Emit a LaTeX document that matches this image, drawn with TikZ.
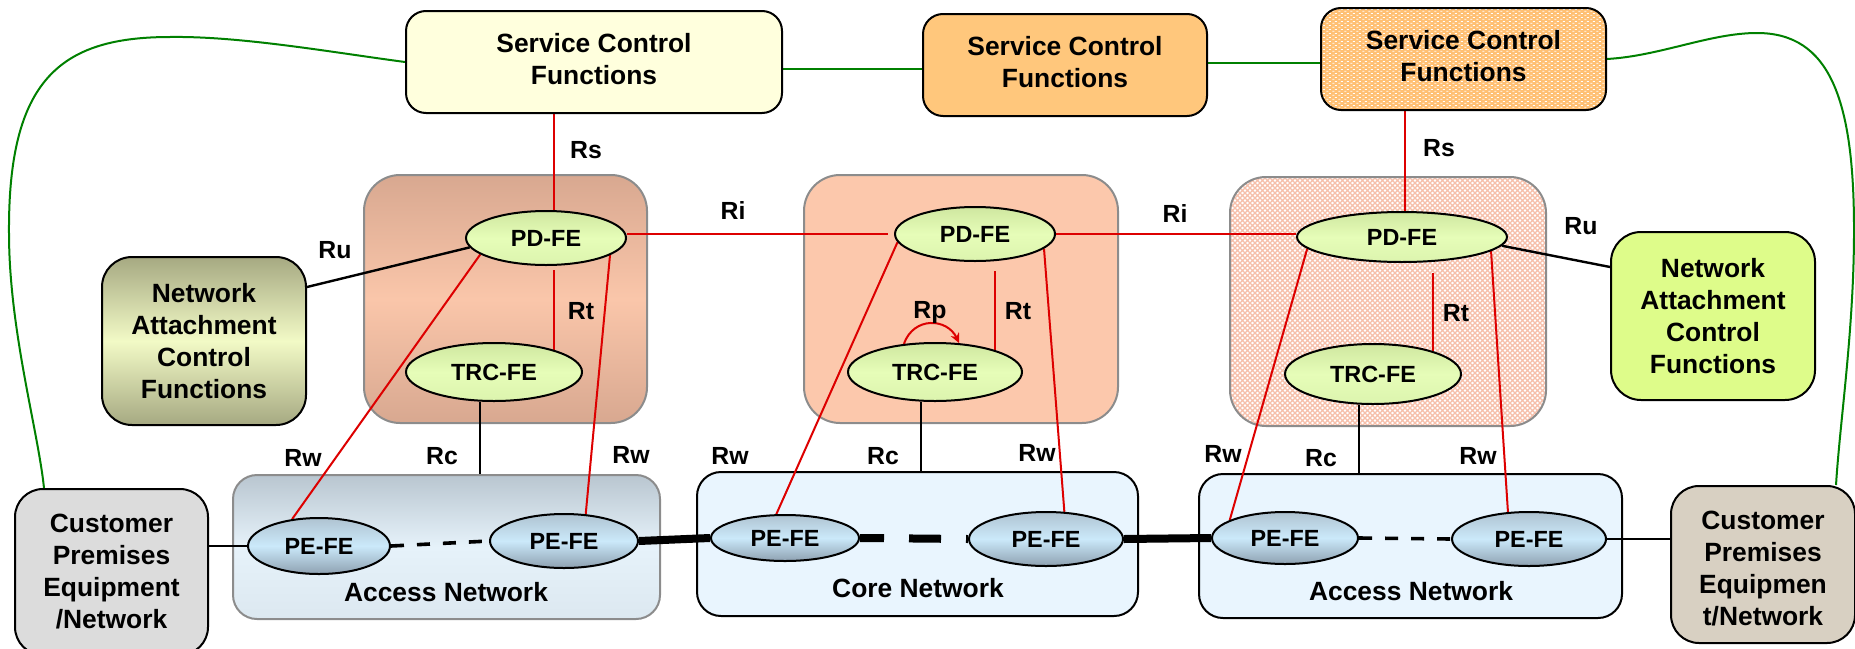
\documentclass[tikz,border=0pt]{standalone}
\usepackage{fontspec}
\setmainfont{Liberation Sans}
\usetikzlibrary{shapes.geometric,arrows.meta,patterns,calc}

% colours
\definecolor{scfpale}{HTML}{FFFFDD}
\definecolor{scforange}{HTML}{FFC77C}
\definecolor{scfdot}{HTML}{FFC074}
\definecolor{domonedark}{HTML}{D8A890}
\definecolor{domonelight}{HTML}{FAC6AA}
\definecolor{domtwo}{HTML}{FCC8AC}
\definecolor{domthreegrid}{HTML}{F6BFAA}
\definecolor{nacdark}{HTML}{A6A982}
\definecolor{naclight}{HTML}{F2FAC6}
\definecolor{nacgreen}{HTML}{DEFC8A}
\definecolor{cpegray}{HTML}{DCDCDC}
\definecolor{cpebeige}{HTML}{D8D0C2}
\definecolor{antop}{HTML}{B9C6D0}
\definecolor{anmid}{HTML}{E6F2FA}
\definecolor{anbot}{HTML}{DCE8F0}
\definecolor{netblue}{HTML}{E9F5FE}
\definecolor{fetop}{HTML}{CFE7A0}
\definecolor{femid}{HTML}{E6FDB8}
\definecolor{febot}{HTML}{DCF4AE}
\definecolor{petop}{HTML}{AFC3D1}
\definecolor{pemid}{HTML}{CBE9FA}
\definecolor{pebot}{HTML}{8EA1B1}
\definecolor{linkred}{HTML}{DD0000}
\definecolor{linkgreen}{HTML}{008000}
\definecolor{areagray}{HTML}{8C8C8C}

% fine fill patterns
\pgfdeclarepatternformonly{whitedash}{\pgfpointorigin}{\pgfpoint{3pt}{2pt}}{\pgfpoint{3pt}{2pt}}{%
  \pgfpathrectangle{\pgfpoint{0.2pt}{0.25pt}}{\pgfpoint{1.2pt}{0.5pt}}%
  \pgfpathrectangle{\pgfpoint{1.7pt}{1.25pt}}{\pgfpoint{1.2pt}{0.5pt}}%
  \pgfusepath{fill}}
\pgfdeclarepatternformonly{finegrid}{\pgfpoint{-0.5pt}{-0.5pt}}{\pgfpoint{3pt}{3pt}}{\pgfpoint{2.5pt}{2.5pt}}{%
  \pgfsetlinewidth{0.6pt}%
  \pgfpathmoveto{\pgfpoint{0pt}{0pt}}\pgfpathlineto{\pgfpoint{2.5pt}{2.5pt}}%
  \pgfpathmoveto{\pgfpoint{0pt}{2.5pt}}\pgfpathlineto{\pgfpoint{2.5pt}{0pt}}%
  \pgfusepath{stroke}}

% centred stack of lines, moved by #1 while keeping its box size
\newcommand{\stacktext}[2]{\raisebox{#1}[\height][\depth]{\begin{tabular}{@{}c@{}}#2\end{tabular}}}

\pgfdeclarelayer{bg}
\pgfdeclarelayer{links}
\pgfsetlayers{bg,links,main}

\tikzset{
  txt/.style={font=\fontsize{13.2pt}{16pt}\selectfont\bfseries, align=center},
  fbox/.style={draw=black, line width=1pt, rounded corners=10pt, inner sep=0pt, txt},
  area/.style={draw=areagray, line width=1pt, rounded corners=18pt, inner sep=0pt},
  netbox/.style={draw=black, line width=1pt, rounded corners=12pt, inner sep=0pt},
  fe/.style={ellipse, draw=black, line width=1pt, inner sep=0pt,
    font=\fontsize{11.7pt}{14pt}\selectfont\bfseries},
  pdfe/.style={fe, top color=fetop, bottom color=febot, middle color=femid},
  pefe/.style={fe, top color=petop, bottom color=pebot, middle color=pemid},
  lbl/.style={font=\fontsize{12.4pt}{14pt}\selectfont\bfseries, text height=9pt, text depth=0pt, inner sep=0pt},
  netlbl/.style={font=\fontsize{13.2pt}{16pt}\selectfont\bfseries, text height=9.5pt, text depth=0pt, inner sep=0pt},
  rlink/.style={draw=linkred, line width=1pt},
  glink/.style={draw=linkgreen, line width=1pt},
  blink/.style={draw=black, line width=1pt},
  dlink/.style={draw=black, line width=1.8pt, dash pattern=on 6.5pt off 6.5pt},
  trunk/.style={draw=black, line width=4pt},
}

\begin{document}
\begin{tikzpicture}[x=0.5pt,y=-0.5pt]
\useasboundingbox (0,0) rectangle (1855,648);
\clip (0,0) rectangle (1855,648);

% ---- controller domains and transport networks
\begin{pgfonlayer}{bg}
\node[area, minimum width=141.5pt, minimum height=124pt,
      top color=domonedark, bottom color=domonedark, middle color=domonelight] (dom1) at (505.5,299) {};
\node[area, minimum width=157pt, minimum height=124pt, fill=domtwo] (dom2) at (961,299) {};
\node[area, minimum width=158pt, minimum height=124.5pt,
      preaction={fill=white}, pattern=finegrid, pattern color=domthreegrid] (dom3) at (1388,301.5) {};
\node[netbox, draw=areagray, minimum width=213.5pt, minimum height=72pt,
      top color=antop, bottom color=anbot, middle color=anmid] (an1) at (446.5,547) {};
\node[netbox, minimum width=220.5pt, minimum height=72pt, fill=netblue] (core) at (917.5,544) {};
\node[netbox, minimum width=211.5pt, minimum height=72pt, fill=netblue] (an3) at (1410.5,546) {};
\end{pgfonlayer}

% ---- service control functions
\node[fbox, fill=scfpale, minimum width=188pt, minimum height=51pt] (scf1) at (594,62)
  {\stacktext{0pt}{Service Control\\Functions}};
\node[fbox, fill=scforange, minimum width=142pt, minimum height=51pt] (scf2) at (1065,65)
  {\stacktext{0pt}{Service Control\\Functions}};
\node[fbox, preaction={fill=scfdot}, pattern=whitedash, pattern color=white,
      minimum width=142.5pt, minimum height=51pt] (scf3) at (1463.5,59)
  {\stacktext{0pt}{Service Control\\Functions}};

% ---- attachment control and customer premises
\node[fbox, rounded corners=15pt, minimum width=102pt, minimum height=84pt,
      top color=nacdark, bottom color=nacdark, middle color=naclight] (nacf1) at (204,341) {Network\\Attachment\\Control\\Functions};
\node[fbox, rounded corners=15pt, minimum width=102pt, minimum height=84pt, fill=nacgreen] (nacf3) at (1713,316) {Network\\Attachment\\Control\\Functions};
\node[fbox, rounded corners=14pt, fill=cpegray, minimum width=96.5pt, minimum height=83pt] (cpe1) at (111.5,572) {Customer\\Premises\\Equipment\\/Network};
\node[fbox, rounded corners=14pt, fill=cpebeige, minimum width=92pt, minimum height=78.5pt] (cpe2) at (1763,564.5)
  {\stacktext{-3.5pt}{Customer\\Premises\\Equipmen\\t/Network}};

% ---- functional entities
\node[pdfe, minimum width=80pt, minimum height=27pt] (pd1) at (546,238) {PD-FE};
\node[pdfe, minimum width=80pt, minimum height=27pt] (pd2) at (975,234) {PD-FE};
\node[pdfe, minimum width=105pt, minimum height=25pt] (pd3) at (1402,237) {PD-FE};
\node[pdfe, minimum width=88pt, minimum height=29pt] (trc1) at (494,372) {TRC-FE};
\node[pdfe, minimum width=87pt, minimum height=29pt] (trc2) at (935,372) {TRC-FE};
\node[pdfe, minimum width=88pt, minimum height=30pt] (trc3) at (1373,374) {TRC-FE};
\node[pefe, minimum width=71pt, minimum height=28pt] (pe1a) at (319,546) {PE-FE};
\node[pefe, minimum width=74pt, minimum height=27pt] (pe1b) at (564,541) {PE-FE};
\node[pefe, minimum width=74pt, minimum height=23pt] (pe2a) at (785,538) {PE-FE};
\node[pefe, minimum width=77pt, minimum height=27pt] (pe2b) at (1046,539) {PE-FE};
\node[pefe, minimum width=73pt, minimum height=26pt] (pe3a) at (1285,538) {PE-FE};
\node[pefe, minimum width=77pt, minimum height=27pt] (pe3b) at (1529,539) {PE-FE};

% ---- network names
\node[netlbl] (an1name) at (446,592) {Access Network};
\node[netlbl] (corename) at (918,588) {Core Network};
\node[netlbl] (an3name) at (1411,591) {Access Network};

% ---- reference point labels
\node[lbl] (rs1) at (586,149) {Rs};
\node[lbl] (ru1) at (335,249) {Ru};
\node[lbl] (rt1) at (581,310) {Rt};
\node[lbl] (ri1) at (733,210) {Ri};
\node[lbl] (rp2) at (930,309) {Rp};
\node[lbl] (rt2) at (1018,310) {Rt};
\node[lbl] (ri2) at (1175,213) {Ri};
\node[lbl] (rs3) at (1439,147) {Rs};
\node[lbl] (ru3) at (1581,225) {Ru};
\node[lbl] (rt3) at (1456,312) {Rt};
\node[lbl] (rw1a) at (303,457) {Rw};
\node[lbl] (rc1) at (442,455) {Rc};
\node[lbl] (rw1b) at (631,454) {Rw};
\node[lbl] (rw2a) at (730,455) {Rw};
\node[lbl] (rc2) at (883,455) {Rc};
\node[lbl] (rw2b) at (1037,452) {Rw};
\node[lbl] (rw3a) at (1223,453) {Rw};
\node[lbl] (rc3) at (1321,457) {Rc};
\node[lbl] (rw3b) at (1478,455) {Rw};

% ---- connections
\begin{pgfonlayer}{links}
% service control interconnection
\draw[glink] ([yshift=-3.5pt]scf1.east) -- ([yshift=-2pt]scf2.west);
\draw[glink] ([yshift=1pt]scf2.east) -- ([yshift=-2pt]scf3.west);
\draw[glink] (scf1.west) .. controls (330,52) and (240,36) .. (170,37)
  .. controls (60,37) and (8,80) .. (9,233)
  .. controls (9,330) and (38,430) .. ([xshift=15pt]cpe1.north west);
\draw[glink] (scf3.east) .. controls (1660,56) and (1710,33) .. (1757,33)
  .. controls (1830,33) and (1854,100) .. (1854,230)
  .. controls (1854,330) and (1840,420) .. ([xshift=-10pt]cpe2.north east);

% Rs, Rt, Ri
\draw[rlink] (scf1.south -| trc1.20) -- (pd1.north -| trc1.20);
\draw[rlink] ($(pd1.south -| trc1.20)+(0,4)$) -- (trc1.20);
\draw[rlink] ($(pd2.south -| trc2.20)+(0,9)$) -- (trc2.20);
\draw[rlink] ($(pd3.north)+(3,0)$) -- ($(pd3.north |- scf3.south)+(3,0)$);
\draw[rlink] ($(pd3.south -| trc3.21)+(0,10)$) -- (trc3.21);
\draw[rlink] ([yshift=2pt]pd1.east) -- ([xshift=-3pt]pd2.west);
\draw[rlink] (pd2.east) -- (pd2.east -| pd3.west);

% Rw
\draw[rlink] (pd1.194) -- (pe1a.135);
\draw[rlink] (pd1.345) -- (pe1b.51);
\draw[rlink] (pd2.186) -- (pe2a.110);
\draw[rlink] (pd2.348) -- (pe2b.56);
\draw[rlink] (pd3.187) -- (pe3a.162);
\draw[rlink] (pd3.351) -- (pe3b.128);

% Rp
\draw[rlink, -{Stealth[length=5pt,width=4.5pt]}] (trc2.138) .. controls +(10,-28) and +(-12,-25) .. (trc2.50);

% Ru and Rc
\draw[blink, line width=1.2pt] ([yshift=-15.5pt]nacf1.north east) -- (pd1.187);
\draw[blink, line width=1.2pt] (pd3.355) -- ([yshift=-18pt]nacf3.north west);
\draw[blink] ([xshift=-7pt]trc1.south) -- ($(trc1.south |- an1.north)+(-14,0)$);
\draw[blink] ([xshift=-7pt]trc2.south) -- ($(trc2.south |- core.north)+(-14,0)$);
\draw[blink] ([xshift=-7pt]trc3.south) -- ($(trc3.south |- an3.north)+(-14,0)$);

% transport
\draw[blink] (cpe1.east |- pe1a.west) -- (pe1a.west);
\draw[blink] (pe3b.east) -- (pe3b.east -| cpe2.west);
\draw[dlink] (pe1a.east) -- (pe1b.west);
\draw[dlink] (pe3a.east) -- (pe3b.west);
\draw[trunk] (pe1b.east) -- (pe2a.west);
\draw[trunk, dash pattern=on 16pt off 12.5pt, dash phase=4pt] (pe2a.east) -- (pe2b.west);
\draw[trunk] (pe2b.east) -- (pe3a.west);
\end{pgfonlayer}
\end{tikzpicture}
\end{document}
